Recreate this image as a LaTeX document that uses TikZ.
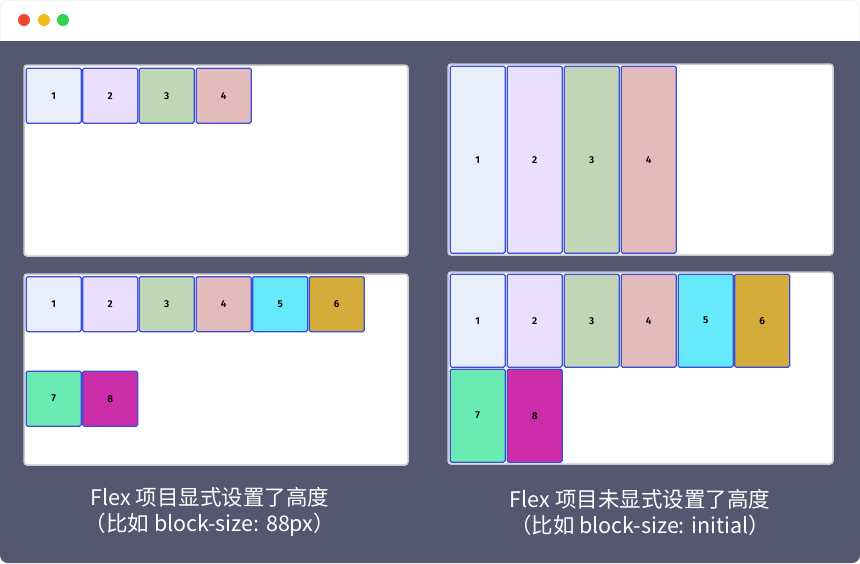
\documentclass[tikz,border=0pt]{standalone}
\usepackage{fontspec}
\setmainfont{Noto Sans CJK SC}
\newfontfamily\numfont{Fira Sans SemiBold}
\definecolor{bgdark}{HTML}{55566F}
\definecolor{itemblue}{HTML}{3A4DDB}
\definecolor{panelgray}{HTML}{C9CAD0}
\definecolor{dotred}{HTML}{E9482A}
\definecolor{dotyellow}{HTML}{F6B91A}
\definecolor{dotgreen}{HTML}{2ED44A}
\definecolor{cone}{HTML}{E8EEFC}
\definecolor{ctwo}{HTML}{EADFFC}
\definecolor{cthree}{HTML}{C0D6B6}
\definecolor{cfour}{HTML}{E3BBBB}
\definecolor{cfive}{HTML}{66E9FB}
\definecolor{csix}{HTML}{D3AC3A}
\definecolor{cseven}{HTML}{6AEBB2}
\definecolor{ceight}{HTML}{CB2EA8}
\tikzset{
  panel/.style={fill=white, draw=panelgray, line width=1.5pt, rounded corners=3pt},
  item/.style={draw=itemblue, line width=1.3pt, rounded corners=1.5pt, anchor=north west,
    minimum width=55pt, minimum height=55pt, inner sep=0pt, font=\numfont\fontsize{10}{11}\selectfont},
  tall/.style={item, minimum height=187pt},
  half/.style={item, minimum height=93pt},
  caption/.style={text=white, align=center, font=\fontsize{21.5}{26}\selectfont}
}
\begin{document}
\begin{tikzpicture}[x=1pt, y=-1pt]
    \useasboundingbox (0,0) rectangle (860,563);
    % window
    \fill[white, draw=gray!20, rounded corners=8pt] (0.5,0.5) rectangle (859.5,562.5);
    \fill[bgdark, rounded corners=8pt] (0,41) -- (860,41) -- (860,563) -- (0,563) -- cycle;
    \fill[bgdark] (0,41) rectangle (860,60);
    \fill[dotred] (24,20) circle (6);
    \fill[dotyellow] (44,20) circle (6);
    \fill[dotgreen] (63,20) circle (6);
    % panels
    \draw[panel] (24,65) rectangle (408,256);
    \draw[panel] (24,274) rectangle (408,465);
    \draw[panel] (448,64) rectangle (833,255);
    \draw[panel] (448,272) rectangle (833,464);
    % explicit height, one row
    \node[item, fill=cone] (a1) at (25.5,67.5) {1};
    \node[item, fill=ctwo] (a2) at (82,67.5) {2};
    \node[item, fill=cthree] (a3) at (138.5,67.5) {3};
    \node[item, fill=cfour] (a4) at (195.5,67.5) {4};
    % explicit height, wrapped
    \node[item, fill=cone] (b1) at (25.5,276) {1};
    \node[item, fill=ctwo] (b2) at (82,276) {2};
    \node[item, fill=cthree] (b3) at (138.5,276) {3};
    \node[item, fill=cfour] (b4) at (195.5,276) {4};
    \node[item, fill=cfive] (b5) at (252,276) {5};
    \node[item, fill=csix] (b6) at (308.5,276) {6};
    \node[item, fill=cseven] (b7) at (25.5,370.5) {7};
    \node[item, fill=ceight] (b8) at (82,370.5) {8};
    % initial height, one row
    \node[tall, fill=cone] (c1) at (449.5,65.5) {1};
    \node[tall, fill=ctwo] (c2) at (506.5,65.5) {2};
    \node[tall, fill=cthree] (c3) at (563.5,65.5) {3};
    \node[tall, fill=cfour] (c4) at (620.5,65.5) {4};
    % initial height, wrapped
    \node[half, fill=cone] (d1) at (449.5,273.5) {1};
    \node[half, fill=ctwo] (d2) at (506.5,273.5) {2};
    \node[half, fill=cthree] (d3) at (563.5,273.5) {3};
    \node[half, fill=cfour] (d4) at (620.5,273.5) {4};
    \node[half, fill=cfive] (d5) at (677.5,273.5) {5};
    \node[half, fill=csix] (d6) at (734,273.5) {6};
    \node[half, fill=cseven] (d7) at (449.5,368.5) {7};
    \node[half, fill=ceight] (d8) at (506.5,368.5) {8};
    % captions
    \node[caption] (capl) at (210,512) {Flex 项目显式设置了高度\\（比如 block-size: 88px）};
    \node[caption] (capr) at (640,512) {Flex 项目未显式设置了高度\\（比如 block-size: initial）};
\end{tikzpicture}
\end{document}
